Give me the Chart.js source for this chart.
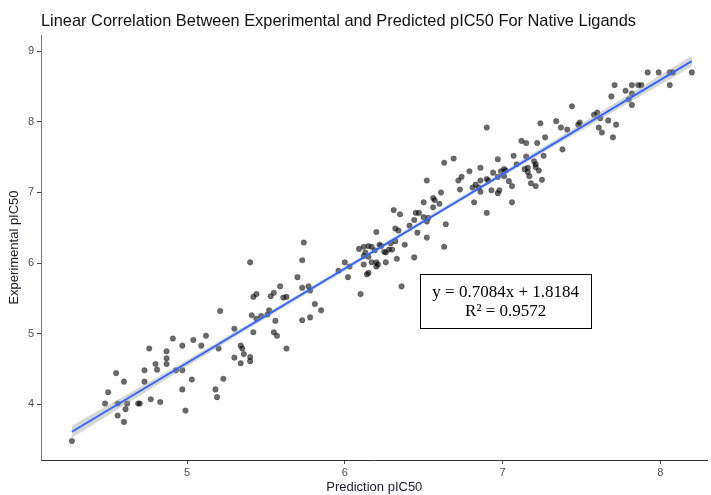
<!DOCTYPE html>
<html>
<head>
<meta charset="utf-8">
<script src="https://cdn.jsdelivr.net/npm/chart.js@4"></script>
<style>
  html, body { margin: 0; padding: 0; background: #fff; }
  #wrap { width: 711px; height: 495px; }
</style>
</head>
<body>
<div id="wrap"><canvas id="chart" width="711" height="495"></canvas></div>
<script>
// predicted pIC50 (x) and experimental pIC50 (y)
const predX = [4.27,4.76,4.91,4.97,5.04,5.12,5.09,4.87,4.87,4.87,4.80,4.81,4.73,4.55,4.60,4.73,4.50,4.48,4.56,4.62,4.61,4.56,4.60,4.70,4.69,4.77,4.83,4.93,4.97,5.03,4.97,4.99,5.18,5.19,5.23,5.30,5.34,5.20,5.34,
  5.74,5.40,5.73,6.09,6.12,6.15,6.12,6.15,6.12,6.00,5.96,6.02,6.03,6.14,6.10,5.70,5.77,5.78,5.73,5.59,5.55,5.53,5.44,5.42,5.61,5.63,5.81,5.85,5.52,5.51,5.47,5.44,5.41,5.56,5.73,5.78,5.21,5.30,5.42,5.55,5.57,5.35,5.36,5.40,5.40,5.63,6.15,
  6.63,6.69,6.97,6.79,6.86,6.74,6.72,6.52,6.86,6.90,6.91,6.94,6.97,6.81,6.83,6.85,6.86,6.93,6.97,6.73,6.61,6.82,6.90,6.56,6.57,6.60,6.50,6.56,6.31,6.35,6.45,6.47,6.50,6.53,6.52,6.44,6.41,6.32,6.34,6.20,6.46,6.64,6.52,6.32,6.29,6.38,6.22,6.17,6.28,6.30,6.25,6.26,6.23,6.19,6.13,6.17,6.20,6.20,6.21,6.26,6.33,6.44,6.63,6.36,
  7.44,7.69,7.78,7.80,7.82,6.90,7.24,7.34,7.37,7.41,7.49,7.48,7.58,7.60,7.62,7.67,7.72,7.61,7.63,7.70,7.12,7.15,7.22,7.27,7.38,7.07,7.15,7.26,7.20,7.21,7.21,7.09,7.14,7.16,7.16,7.23,7.17,7.25,7.18,7.21,7.01,7.02,6.99,7.01,7.04,7.06,6.98,7.06,
  7.92,7.99,8.06,8.08,8.20,8.06,7.71,7.82,7.86,7.88,7.82];
const expY = [3.48,4.79,4.93,4.83,4.91,4.97,4.83,4.75,4.65,4.57,4.57,4.49,4.48,4.44,4.32,4.32,4.17,4.01,4.01,4.01,3.93,3.84,3.75,4.01,4.01,4.07,4.03,4.48,4.48,4.35,4.21,3.91,4.21,4.10,4.36,4.66,4.58,4.79,4.83,
  6.29,6.01,6.04,6.20,6.23,6.24,6.10,6.09,5.98,6.01,5.89,5.80,5.95,5.84,5.56,5.80,5.67,5.61,5.65,5.67,5.58,5.53,5.56,5.52,5.51,5.52,5.42,5.33,5.33,5.27,5.25,5.21,5.26,5.18,5.19,5.23,5.32,5.07,5.02,5.02,4.97,4.79,4.71,4.67,4.61,4.79,5.86,
  7.42,7.48,7.47,7.30,7.35,7.22,7.17,7.17,7.17,7.19,7.17,7.28,7.22,7.07,7.11,7.07,7.01,7.03,6.99,7.04,7.00,6.86,6.71,6.92,6.89,6.84,6.86,6.79,6.75,6.69,6.71,6.71,6.65,6.64,6.59,6.61,6.53,6.49,6.46,6.44,6.43,6.55,6.36,6.31,6.28,6.26,6.26,6.23,6.19,6.19,6.16,6.15,6.24,6.18,6.15,6.01,6.01,5.95,5.98,6.01,6.06,6.08,6.23,5.67,
  8.22,8.36,8.44,8.32,8.24,7.92,7.98,8.01,7.92,7.89,7.99,7.96,8.10,8.13,8.05,8.02,7.96,7.92,7.85,7.78,7.73,7.70,7.70,7.78,7.61,7.52,7.51,7.52,7.44,7.40,7.36,7.40,7.33,7.35,7.29,7.31,7.23,7.18,7.13,7.09,7.33,7.31,7.30,7.23,7.16,7.09,7.03,6.86,
  8.70,8.70,8.70,8.70,8.70,8.52,8.52,8.52,8.52,8.52,8.40];

// fitted line and its confidence band
const fitX = [4.27, 8.20];
const fitY = [3.61, 8.86];
const bandX  = [4.27, 4.70, 5.20, 5.80, 6.40, 7.00, 7.60, 8.20];
const bandLo = [3.525, 4.12, 4.81, 5.62, 6.43, 7.23, 8.01, 8.785];
const bandHi = [3.695, 4.24, 4.89, 5.68, 6.49, 7.29, 8.11, 8.935];

const xTicks = [5, 6, 7, 8];
const yTicks = [4, 5, 6, 7, 8, 9];

const titleText = "Linear Correlation Between Experimental and Predicted pIC50 For Native Ligands";
const eqLines = ["y = 0.7084x + 1.8184", "R\u00b2 = 0.9572"];
const eqAt = { x: 7.02, y: 5.46 };

const pts = predX.map((x, i) => ({ x: x, y: expY[i] }));
const zip = (xs, ys) => xs.map((x, i) => ({ x: x, y: ys[i] }));

// title + equation box drawn on canvas
const extras = {
  id: "extras",
  afterDraw(chart) {
    const ctx = chart.ctx;
    ctx.save();
    ctx.fillStyle = "#111";
    ctx.font = "16.4px 'Liberation Sans', Arial, sans-serif";
    ctx.textBaseline = "middle";
    ctx.textAlign = "left";
    ctx.fillText(titleText, 41, 21);

    const cx = chart.scales.x.getPixelForValue(eqAt.x);
    const cy = chart.scales.y.getPixelForValue(eqAt.y);
    ctx.font = "17px 'Liberation Serif', 'Times New Roman', serif";
    const w = Math.max(...eqLines.map(t => ctx.measureText(t).width)) + 24;
    const h = 54;
    ctx.fillStyle = "#fff";
    ctx.fillRect(cx - w / 2, cy - h / 2, w, h);
    ctx.strokeStyle = "#000";
    ctx.lineWidth = 1;
    ctx.strokeRect(Math.round(cx - w / 2) + 0.5, Math.round(cy - h / 2) + 0.5, Math.round(w), h);
    ctx.fillStyle = "#000";
    ctx.textAlign = "center";
    ctx.fillText(eqLines[0], cx, cy - 9);
    ctx.fillText(eqLines[1], cx, cy + 10);
    ctx.restore();
  }
};

new Chart(document.getElementById("chart"), {
  type: "scatter",
  data: {
    datasets: [
      {
        data: pts,
        order: 3,
        pointRadius: 2.8,
        pointHoverRadius: 2.8,
        backgroundColor: "rgba(0,0,0,0.58)",
        borderColor: "rgba(0,0,0,0.35)",
        borderWidth: 0.6
      },
      {
        type: "line",
        data: zip(bandX, bandLo),
        order: 2,
        pointRadius: 0,
        borderWidth: 0,
        fill: false,
        tension: 0.3
      },
      {
        type: "line",
        data: zip(bandX, bandHi),
        order: 2,
        pointRadius: 0,
        borderWidth: 0,
        backgroundColor: "rgba(153,153,153,0.4)",
        fill: "-1",
        tension: 0.3
      },
      {
        type: "line",
        data: zip(fitX, fitY),
        order: 1,
        pointRadius: 0,
        borderColor: "#3366FF",
        borderWidth: 2,
        fill: false
      }
    ]
  },
  options: {
    responsive: false,
    animation: false,
    layout: { padding: { top: 35, right: 0, bottom: 0, left: 0 } },
    plugins: {
      legend: { display: false },
      tooltip: { enabled: false }
    },
    scales: {
      x: {
        type: "linear",
        min: 4.074,
        max: 8.30,
        afterFit: s => { s.height = 35; },
        afterBuildTicks: s => { s.ticks = xTicks.map(v => ({ value: v })); },
        grid: { drawOnChartArea: false, drawTicks: true, tickLength: 4, color: "#444" },
        border: { display: true, color: "#333", width: 1 },
        ticks: { color: "#4d4d4d", font: { size: 11, family: "'Liberation Sans', Arial" }, padding: 2 },
        title: {
          display: true,
          text: "Prediction pIC50",
          color: "#1c1c2e",
          font: { size: 13, family: "'Liberation Sans', Arial" },
          padding: { top: 0, bottom: 0 }
        }
      },
      y: {
        type: "linear",
        min: 3.21,
        max: 9.23,
        afterFit: s => { s.width = 41; },
        afterBuildTicks: s => { s.ticks = yTicks.map(v => ({ value: v })); },
        grid: { drawOnChartArea: false, drawTicks: true, tickLength: 4, color: "#444" },
        border: { display: true, color: "#777", width: 1 },
        ticks: { color: "#4d4d4d", font: { size: 11, family: "'Liberation Sans', Arial" }, padding: 3 },
        title: {
          display: true,
          text: "Experimental pIC50",
          color: "#1c1c2e",
          font: { size: 13, family: "'Liberation Sans', Arial" },
          padding: { top: 7, bottom: 0 }
        }
      }
    }
  },
  plugins: [extras]
});
</script>
</body>
</html>
